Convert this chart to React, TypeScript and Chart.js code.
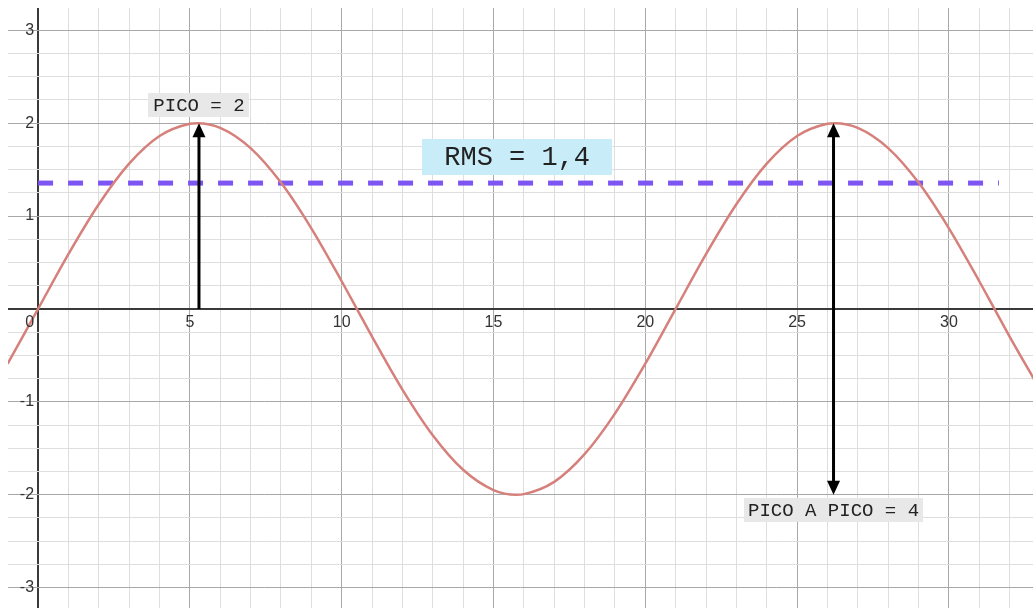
import React, { useEffect, useRef } from "react";
import { Chart, registerables } from "chart.js";

Chart.register(...registerables);

// ---- data ----
const curveX = [-1, 0, 1, 2, 3, 4, 5, 5.25, 6, 7, 8, 9, 10, 10.5, 11, 12, 13, 14, 15, 15.75, 16, 17, 18, 19, 20, 21, 22, 23, 24, 25, 26, 26.25, 27, 28, 29, 30, 31, 31.5, 32, 33];
const curveY = [-0.59, 0, 0.59, 1.127, 1.564, 1.862, 1.994, 2, 1.95, 1.732, 1.36, 0.868, 0.298, 0, -0.298, -0.868, -1.36, -1.732, -1.95, -2, -1.994, -1.862, -1.564, -1.127, -0.59, 0, 0.59, 1.127, 1.564, 1.862, 1.994, 2, 1.95, 1.732, 1.36, 0.868, 0.298, 0, -0.298, -0.868];

const rmsX = [0, 31.65];
const rmsY = [1.355, 1.355];

const arrowX = [5.3, 26.2];
const arrowTop = [2, 2];
const arrowBottom = [0, -2];
const arrowDouble = [false, true];

const xTickValues = [0, 5, 10, 15, 20, 25, 30];
const yTickValues = [-3, -2, -1, 1, 2, 3];

const labelTexts = ["PICO = 2", "RMS = 1,4", "PICO A PICO = 4"];
const labelX = [5.3, 15.78, 26.2];
const labelY = [2.196, 1.636, -2.164];

// ---- styling / layout ----
const X_MIN = -0.99;
const X_MAX = 32.77;
const Y_MIN = -3.22;
const Y_MAX = 3.24;

const labelStyles = [
  { size: 19, padX: 5, boxH: 24, bg: "#e8e8e8" },
  { size: 27, padX: 22, boxH: 36, bg: "#c8ecf8" },
  { size: 19, padX: 4, boxH: 24, bg: "#e8e8e8" },
];

const AXIS_COLOR = "#3a3a3a";
const MAJOR_COLOR = "#a8a8a8";
const MINOR_COLOR = "#dedede";

function isMult(v: number, step: number) {
  const r = v / step;
  return Math.abs(r - Math.round(r)) < 1e-6;
}

const xGrid: number[] = [];
for (let i = -1; i <= 33; i++) xGrid.push(i);
const yGrid: number[] = [];
for (let i = -13; i <= 13; i++) yGrid.push(i * 0.25);

const overlayPlugin = {
  id: "overlay",
  afterDatasetsDraw(chart: any) {
    const ctx = chart.ctx as CanvasRenderingContext2D;
    const xs = chart.scales.x;
    const ys = chart.scales.y;
    ctx.save();

    // tick labels
    ctx.fillStyle = "#333";
    ctx.font = '16px "Liberation Sans", Arial, sans-serif';
    const x0 = xs.getPixelForValue(0);
    const y0 = ys.getPixelForValue(0);
    ctx.textBaseline = "middle";
    xTickValues.forEach((v) => {
      const px = xs.getPixelForValue(v);
      if (v === 0) {
        ctx.textAlign = "right";
        ctx.fillText(String(v), px - 4, y0 + 14);
      } else {
        ctx.textAlign = "center";
        ctx.fillText(String(v), px, y0 + 14);
      }
    });
    yTickValues.forEach((v) => {
      const py = ys.getPixelForValue(v);
      ctx.textAlign = "right";
      ctx.fillText(String(v), x0 - 4, py);
    });

    // arrows
    const hh = 14;
    const hw = 6.5;
    ctx.strokeStyle = "#000";
    ctx.fillStyle = "#000";
    ctx.lineWidth = 3;
    arrowX.forEach((ax, i) => {
      const px = xs.getPixelForValue(ax);
      const top = ys.getPixelForValue(arrowTop[i]);
      const bot = ys.getPixelForValue(arrowBottom[i]);
      ctx.beginPath();
      ctx.moveTo(px, arrowDouble[i] ? bot - hh + 2 : bot);
      ctx.lineTo(px, top + hh - 2);
      ctx.stroke();
      ctx.beginPath();
      ctx.moveTo(px, top);
      ctx.lineTo(px - hw, top + hh);
      ctx.lineTo(px + hw, top + hh);
      ctx.closePath();
      ctx.fill();
      if (arrowDouble[i]) {
        ctx.beginPath();
        ctx.moveTo(px, bot);
        ctx.lineTo(px - hw, bot - hh);
        ctx.lineTo(px + hw, bot - hh);
        ctx.closePath();
        ctx.fill();
      }
    });

    // annotation boxes
    labelTexts.forEach((t, i) => {
      const st = labelStyles[i];
      ctx.font = `${st.size}px "Liberation Mono", "Courier New", monospace`;
      const w = ctx.measureText(t).width + st.padX * 2;
      const cx = xs.getPixelForValue(labelX[i]);
      const cy = ys.getPixelForValue(labelY[i]);
      ctx.fillStyle = st.bg;
      ctx.fillRect(Math.round(cx - w / 2), Math.round(cy - st.boxH / 2), Math.round(w), st.boxH);
      ctx.fillStyle = "#222";
      ctx.textAlign = "center";
      ctx.textBaseline = "middle";
      ctx.fillText(t, cx, cy + 1);
    });

    ctx.restore();
  },
};

export default function App() {
  const canvasRef = useRef<HTMLCanvasElement | null>(null);

  useEffect(() => {
    if (!canvasRef.current) return;
    const chart = new Chart(canvasRef.current, {
      type: "scatter",
      data: {
        datasets: [
          {
            label: "señal",
            data: curveX.map((x, i) => ({ x, y: curveY[i] })),
            showLine: true,
            borderColor: "#d6807c",
            borderWidth: 2.5,
            pointRadius: 0,
            cubicInterpolationMode: "monotone",
            order: 0,
          } as any,
          {
            label: "RMS",
            data: rmsX.map((x, i) => ({ x, y: rmsY[i] })),
            showLine: true,
            borderColor: "#7d55f2",
            borderWidth: 5,
            borderDash: [15, 15],
            borderCapStyle: "butt",
            pointRadius: 0,
            order: 1,
          } as any,
        ],
      },
      options: {
        animation: false,
        responsive: true,
        maintainAspectRatio: false,
        layout: { padding: 0 },
        plugins: {
          legend: { display: false },
          tooltip: { enabled: false },
        },
        events: [],
        scales: {
          x: {
            type: "linear",
            min: X_MIN,
            max: X_MAX,
            border: { display: false },
            ticks: { display: false },
            afterBuildTicks: (s: any) => {
              s.ticks = xGrid.map((v) => ({ value: v }));
            },
            grid: {
              drawTicks: false,
              color: (c: any) => {
                const v = c.tick ? c.tick.value : 1;
                if (Math.abs(v) < 1e-6) return AXIS_COLOR;
                return isMult(v, 5) ? MAJOR_COLOR : MINOR_COLOR;
              },
              lineWidth: (c: any) => {
                const v = c.tick ? c.tick.value : 1;
                return Math.abs(v) < 1e-6 ? 2 : 1;
              },
            },
          },
          y: {
            type: "linear",
            min: Y_MIN,
            max: Y_MAX,
            border: { display: false },
            ticks: { display: false },
            afterBuildTicks: (s: any) => {
              s.ticks = yGrid.map((v) => ({ value: v }));
            },
            grid: {
              drawTicks: false,
              color: (c: any) => {
                const v = c.tick ? c.tick.value : 0.5;
                if (Math.abs(v) < 1e-6) return AXIS_COLOR;
                return isMult(v, 1) ? MAJOR_COLOR : MINOR_COLOR;
              },
              lineWidth: (c: any) => {
                const v = c.tick ? c.tick.value : 0.5;
                return Math.abs(v) < 1e-6 ? 2 : 1;
              },
            },
          },
        },
      } as any,
      plugins: [overlayPlugin],
    });
    return () => chart.destroy();
  }, []);

  return (
    <div
      style={{
        position: "fixed",
        left: 8,
        top: 8,
        width: 1025,
        height: 600,
        background: "#fff",
      }}
    >
      <canvas ref={canvasRef} />
    </div>
  );
}
